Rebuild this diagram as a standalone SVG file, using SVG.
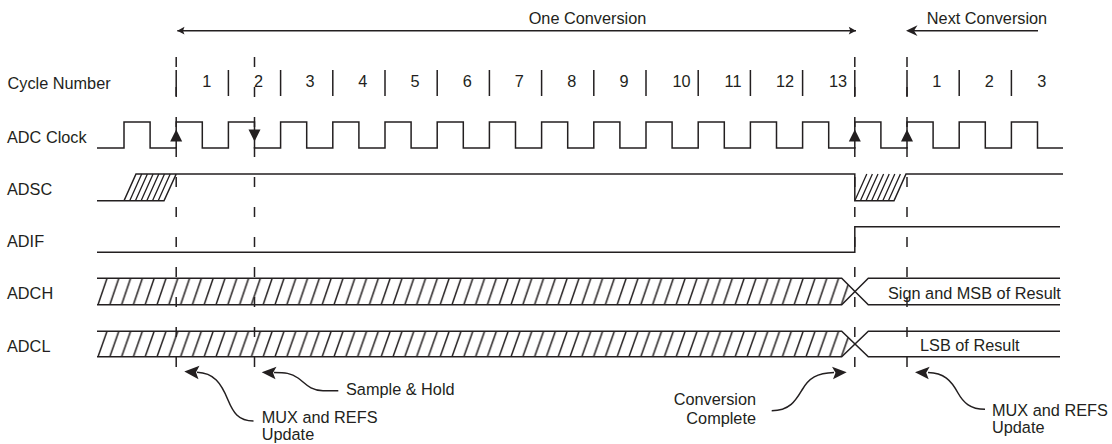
<svg xmlns="http://www.w3.org/2000/svg" width="1112" height="444" viewBox="0 0 1112 444">
<style>
text{font-family:"Liberation Sans",Arial,Helvetica,sans-serif;font-size:16.3px;fill:#231f20}
.mid{text-anchor:middle}
.end{text-anchor:end}
.sig{fill:none;stroke:#231f20;stroke-width:1.5;stroke-linejoin:miter}
.thin{fill:none;stroke:#231f20;stroke-width:1.3}
.dash{fill:none;stroke:#231f20;stroke-width:1.5;stroke-dasharray:10 20}
.ah{fill:#231f20;stroke:none}
</style>
<defs>
<pattern id="hatchH" patternUnits="userSpaceOnUse" x="97" y="278.3" width="11.8" height="26.4">
<path d="M1,26.4 L10,0" stroke="#231f20" stroke-width="1.5" fill="none"/>
</pattern>
<pattern id="hatchL" patternUnits="userSpaceOnUse" x="97" y="331.3" width="11.8" height="25.4">
<path d="M1,25.4 L10,0" stroke="#231f20" stroke-width="1.5" fill="none"/>
</pattern>
</defs>
<rect width="1112" height="444" fill="#ffffff"/>

<g id="labels">
<text x="7.5" y="89.3">Cycle Number</text>
<text x="7" y="142.8">ADC Clock</text>
<text x="7" y="194.8">ADSC</text>
<text x="7" y="247.3">ADIF</text>
<text x="7" y="299.3">ADCH</text>
<text x="7" y="352.3">ADCL</text>
</g>

<g id="conversion-spans">
<text class="mid" x="587.5" y="24">One Conversion</text>
<text class="mid" x="987" y="24">Next Conversion</text>
</g>

<g id="cycle-numbers">
<path class="sig" d="M176.2,70V96 M228.4,70V96 M280.6,70V96 M332.8,70V96 M385,70V96 M437.2,70V96 M489.4,70V96 M541.6,70V96 M593.8,70V96 M646,70V96 M698.2,70V96 M750.4,70V96 M802.6,70V96 M854.8,70V96 M907,70V96 M959.2,70V96 M1011.4,70V96"/>
<text class="mid" x="206.7" y="86.5">1</text>
<text class="mid" x="258.5" y="86.5">2</text>
<text class="mid" x="310" y="86.5">3</text>
<text class="mid" x="362.7" y="86.5">4</text>
<text class="mid" x="415" y="86.5">5</text>
<text class="mid" x="467.3" y="86.5">6</text>
<text class="mid" x="519.3" y="86.5">7</text>
<text class="mid" x="571.7" y="86.5">8</text>
<text class="mid" x="624" y="86.5">9</text>
<text class="mid" x="681.5" y="86.5">10</text>
<text class="mid" x="733" y="86.5">11</text>
<text class="mid" x="785" y="86.5">12</text>
<text class="mid" x="838" y="86.5">13</text>
<text class="mid" x="936.7" y="86.5">1</text>
<text class="mid" x="989.3" y="86.5">2</text>
<text class="mid" x="1041.7" y="86.5">3</text>
</g>

<g id="markers">
<path class="dash" d="M176.2,57V368 M254.5,57V368 M854.8,57V368 M907,57V368"/>
</g>

<g id="adc-clock">
<path class="sig" d="M97,148H124V122H150.1V148H176.2V122H202.3V148H228.4V122H254.5V148H280.6V122H306.7V148H332.8V122H358.9V148H385V122H411.1V148H437.2V122H463.3V148H489.4V122H515.5V148H541.6V122H567.7V148H593.8V122H619.9V148H646V122H672.1V148H698.2V122H724.3V148H750.4V122H776.5V148H802.6V122H828.7V148H854.8V122H880.9V148H907V122H933.1V148H959.2V122H985.3V148H1011.4V122H1037.5V148H1063"/>
<path class="ah" d="M176.2,129.5L182.2,141.5H170.2Z"/>
<path class="ah" d="M254.5,141.5L260.5,129.5H248.5Z"/>
<path class="ah" d="M854.8,129.5L860.8,141.5H848.8Z"/>
<path class="ah" d="M907,129.5L913,141.5H901Z"/>
</g>

<g id="adsc">
<path class="sig" d="M97,200.7H164L176.2,174 M124,200.7L136,174H854.8V200.7H894L906,174H1063"/>
<path class="thin" d="M129.7,200.7L141.7,174 M135.4,200.7L147.4,174 M141.1,200.7L153.1,174 M146.8,200.7L158.8,174 M152.5,200.7L164.5,174 M158.2,200.7L170.2,174 M854.8,200.7L866.8,174 M860.4,200.7L872.4,174 M866,200.7L878,174 M871.6,200.7L883.6,174 M877.2,200.7L889.2,174 M882.8,200.7L894.8,174 M888.4,200.7L900.4,174"/>
</g>

<g id="adif">
<path class="sig" d="M97,252.3H854.8V226.7H1060"/>
</g>

<g id="adch">
<polygon points="97,278.3 841.7,278.3 855,291.5 841.7,304.7 97,304.7" fill="url(#hatchH)"/>
<path class="sig" d="M97,278.3H841.7L868.3,304.7H1060 M97,304.7H841.7L868.3,278.3H1060"/>
<text x="888" y="298.8">Sign and MSB of Result</text>
</g>

<g id="adcl">
<polygon points="97,331.3 841.7,331.3 855,344 841.7,356.7 97,356.7" fill="url(#hatchL)"/>
<path class="sig" d="M97,331.3H841.7L868.3,356.7H1060 M97,356.7H841.7L868.3,331.3H1060"/>
<text x="920" y="350.8">LSB of Result</text>
</g>

<g id="annotations">
<text x="261.7" y="423">MUX and REFS</text>
<text x="261.7" y="440">Update</text>
<text x="346" y="395">Sample &amp; Hold</text>
<text class="end" x="756" y="405">Conversion</text>
<text class="end" x="756" y="424">Complete</text>
<text x="992" y="416">MUX and REFS</text>
<text x="992" y="433">Update</text>
</g>

<g id="connectors">
<path class="sig" d="M177.3,30.7H856"/>
<path class="ah" d="M177.3,30.7L184.5,26.8L183,30.7L184.5,34.6Z"/>
<path class="ah" d="M856,30.7L848.8,26.8L850.3,30.7L848.8,34.6Z"/>
<path class="sig" d="M912,30.7H1038"/>
<path class="ah" d="M906,30.7L917.5,25.3L914,30.7L917.5,36.1Z"/>
<path class="sig" d="M253.5,421C238,421 233,412 228,400C221,383 214,373 197,372.3"/>
<path class="ah" d="M184.3,371.6L199.5,365.8L196,372.3L198.5,379.2Z"/>
<path class="sig" d="M338.3,390.7H323C310,390.7 305,383 298,378C291,373 285,372.5 274,372.5"/>
<path class="ah" d="M261.7,372.3L276.5,366.8L273,372.8L275.5,379.3Z"/>
<path class="sig" d="M771.7,410.7C790,410.7 796,400 802,390C809,378 817,373 834,372.5"/>
<path class="ah" d="M846.7,372.3L832,366.8L835.5,372.8L833,379.3Z"/>
<path class="sig" d="M985,409.3C970,409.3 963,402 958,393C951,380 944,373 928,372.5"/>
<path class="ah" d="M915,372.3L929.7,366.8L926.2,372.8L928.7,379.3Z"/>
</g>
</svg>
